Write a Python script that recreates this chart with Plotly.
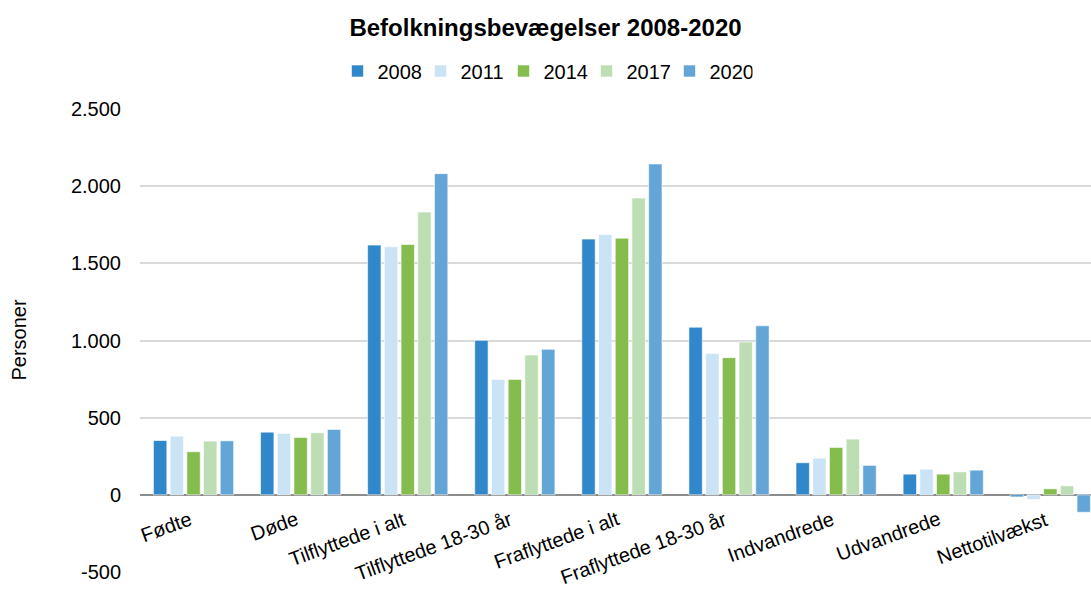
import plotly.graph_objects as go

categories = ["Fødte", "Døde", "Tilflyttede i alt", "Tilflyttede 18-30 år",
              "Fraflyttede i alt", "Fraflyttede 18-30 år", "Indvandrede",
              "Udvandrede", "Nettotilvækst"]
years = ["2008", "2011", "2014", "2017", "2020"]
values = {
    "2008": [352, 406, 1618, 1001, 1657, 1086, 208, 134, -13],
    "2011": [380, 398, 1607, 748, 1687, 915, 238, 166, -30],
    "2014": [279, 372, 1622, 748, 1663, 889, 307, 134, 39],
    "2017": [348, 402, 1832, 906, 1923, 990, 361, 149, 58],
    "2020": [350, 424, 2081, 943, 2144, 1095, 191, 160, -113],
}
colors = {"2008": "#3087C9", "2011": "#CAE4F5", "2014": "#84BD4E",
          "2017": "#BDDDB5", "2020": "#63A5D7"}
yticks = [-500, 0, 500, 1000, 1500, 2000, 2500]
yticktext = [f"{v:,}".replace(",", ".") for v in yticks]

FONT = "Liberation Sans, Arial, sans-serif"

fig = go.Figure()
for yr in years:
    fig.add_trace(go.Bar(
        x=list(range(len(categories))), y=values[yr], name=yr,
        marker=dict(color=colors[yr], line=dict(color="rgba(255,255,255,0.6)", width=1)),
    ))

# category labels placed under the zero line, end of text at the category centre
cat_labels = [dict(text=c, x=i, y=0, xref="x", yref="y", textangle=-20,
                   xanchor="right", yanchor="top", xshift=3, yshift=-10,
                   showarrow=False, font=dict(size=20, family=FONT, color="#000"))
              for i, c in enumerate(categories)]

fig.update_layout(
    width=1091, height=598,
    margin=dict(l=140, r=0, t=109, b=26, autoexpand=False),
    paper_bgcolor="white", plot_bgcolor="white",
    barmode="group", bargap=0.22, bargroupgap=0.2,
    font=dict(family=FONT, color="#000000", size=20),
    title=dict(text="<b>Befolkningsbevægelser 2008-2020</b>", x=0.5, xref="container",
               xanchor="center", y=1 - 28 / 598, yref="container", yanchor="middle",
               font=dict(size=24, family=FONT, color="#000")),
    legend=dict(orientation="h", x=(545 - 140) / 951, xanchor="center",
                y=1.0 + (109 - 71) / 463, yanchor="middle",
                font=dict(size=20, family=FONT), itemwidth=30,
                entrywidth=38, entrywidthmode="pixels",
                traceorder="normal"),
    xaxis=dict(
        range=[-0.5, 8.38], automargin=False,
        tickvals=list(range(len(categories))), showticklabels=False,
        showgrid=False, zeroline=False, showline=False, ticks="",
    ),
    yaxis=dict(
        range=[-500, 2500], tickvals=yticks, ticktext=yticktext, automargin=False,
        showgrid=True, gridcolor="#D9D9D9", gridwidth=1.5,
        zeroline=True, zerolinecolor="#8C8C8C", zerolinewidth=2,
        ticks="", ticklabelstandoff=18,
        tickfont=dict(size=20, family=FONT),
    ),
    annotations=[dict(text="Personer", textangle=-90, xref="paper", yref="paper",
                      x=(18 - 140) / 951, y=0.5, xanchor="center", yanchor="middle",
                      showarrow=False, font=dict(size=20, family=FONT))] + cat_labels,
)

fig.write_html("out.html", config={"displayModeBar": False},
               post_script="document.body.style.margin='0';document.body.style.overflow='hidden';")
